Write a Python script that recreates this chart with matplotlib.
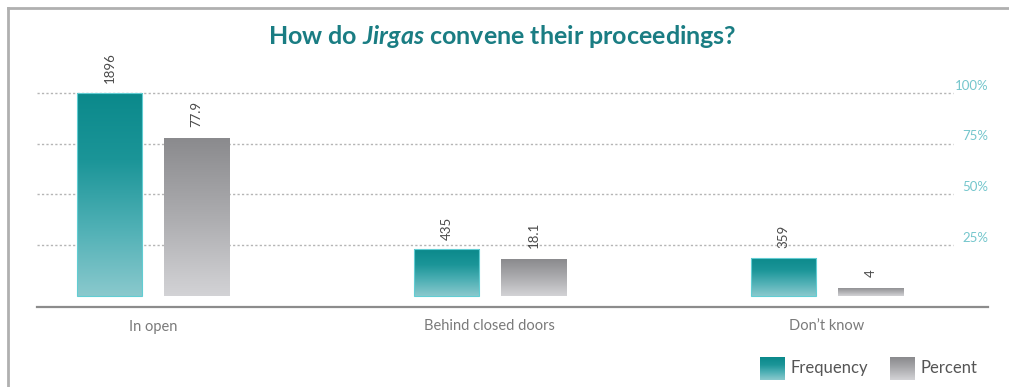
import numpy as np
import matplotlib
matplotlib.use("Agg")
import matplotlib.pyplot as plt
from matplotlib.colors import LinearSegmentedColormap
from matplotlib.transforms import blended_transform_factory
from matplotlib.lines import Line2D

# ---- data ----
categories = ["In open", "Behind closed doors", "Don\u2019t know"]
frequency = [1896, 435, 359]
percent = [77.9, 18.1, 4]
freq_labels = ["1896", "435", "359"]
pct_labels = ["77.9", "18.1", "4"]
pct_ticks = [25, 50, 75, 100]
pct_tick_labels = ["25%", "50%", "75%", "100%"]
series_names = ["Frequency", "Percent"]

plt.rcParams["font.family"] = ["Lato", "DejaVu Sans"]
plt.rcParams["mathtext.fontset"] = "custom"
plt.rcParams["mathtext.it"] = "Lato:bold:italic"
plt.rcParams["mathtext.rm"] = "Lato:bold"

teal_cmap = LinearSegmentedColormap.from_list(
    "teal", ["#8ac9cd", "#4fb0b5", "#1b9598", "#0b898b"])
gray_cmap = LinearSegmentedColormap.from_list(
    "gray", ["#d3d3d6", "#acacaf", "#8a8a8d"])

W, H = 1009, 387
fig = plt.figure(figsize=(W / 100, H / 100), dpi=100)
fig.patch.set_facecolor("white")

y_lo, y_hi = -5.4, 105
x_lo, x_hi = -0.344, 2.478
ax = fig.add_axes([37 / W, 1 - 307 / H, (988 - 37) / W, (307 - 82.8) / H])
ax.set_facecolor("none")

# frequency axis scaled so that its maximum sits on the 100% line
k = max(frequency) / 100.0
ax2 = ax.twinx()

x = np.arange(len(categories))
bw, off = 0.193, 0.129

# dotted reference lines
ax.hlines(pct_ticks, x_lo, 2.375, colors="#b5b5b5",
          linestyles=(0, (1.6, 1.6)), linewidth=1.0, zorder=0)

freq_bars = ax2.bar(x - off, frequency, bw, edgecolor="#62cdd3",
                    linewidth=0.8, zorder=2)
pct_bars = ax.bar(x + off, percent, bw, edgecolor="none", zorder=2)


def fill_gradient(axis, bars, cmap):
    grad = np.linspace(0, 1, 256).reshape(-1, 1)
    for p in bars.patches:
        x0, y0 = p.get_x(), p.get_y()
        x1, y1 = x0 + p.get_width(), y0 + p.get_height()
        im = axis.imshow(grad, extent=(x0, x1, y0, y1), origin="lower",
                         cmap=cmap, aspect="auto", zorder=1.9,
                         interpolation="bicubic")
        im.set_clip_path(p)
        p.set_facecolor("none")


fill_gradient(ax2, freq_bars, teal_cmap)
fill_gradient(ax, pct_bars, gray_cmap)

for xi, v, lab in zip(x - off, frequency, freq_labels):
    ax2.annotate(lab, (xi, v), xytext=(0, 7), textcoords="offset points",
                 rotation=90, ha="center", va="bottom", fontsize=9.5,
                 color="#4a4a4a")
for xi, v, lab in zip(x + off, percent, pct_labels):
    ax.annotate(lab, (xi, v), xytext=(0, 8), textcoords="offset points",
                rotation=90, ha="center", va="bottom", fontsize=9.5,
                color="#4a4a4a")

ax.set_xlim(x_lo, x_hi)
ax.set_ylim(y_lo, y_hi)
ax2.set_xlim(x_lo, x_hi)
ax2.set_ylim(y_lo * k, y_hi * k)

# axes styling
for a in (ax, ax2):
    for s in ("left", "right", "top"):
        a.spines[s].set_visible(False)
ax2.spines["bottom"].set_visible(False)
ax.spines["bottom"].set_color("#8c8c8c")
ax.spines["bottom"].set_linewidth(1.6)
ax.set_yticks([])
ax2.set_yticks([])
ax.set_xticks(x)
ax.set_xticklabels(categories, fontsize=10.5, color="#7a7a7a")
ax.tick_params(axis="x", length=0, pad=9)

# percent labels at the right end of the reference lines
tr = blended_transform_factory(ax.transAxes, ax.transData)
for t, lab in zip(pct_ticks, pct_tick_labels):
    ax.annotate(lab, (1.0, t), xycoords=tr, xytext=(0, 1),
                textcoords="offset points", ha="right", va="bottom",
                fontsize=9.5, color="#74c6cc")

# title
fig.text(0.498, 1 - 37 / H, r"How do $Jirgas$ convene their proceedings?",
         ha="center", va="center", fontsize=18, fontweight="bold",
         color="#1a7d83")

# legend
def swatch(x0, cmap):
    sa = fig.add_axes([x0 / W, 1 - 380 / H, 25 / W, 23 / H])
    sa.imshow(np.linspace(0, 1, 64).reshape(-1, 1), origin="lower",
              cmap=cmap, aspect="auto", interpolation="bicubic")
    sa.axis("off")


swatch(760, teal_cmap)
fig.text(791 / W, 1 - 368 / H, series_names[0], ha="left", va="center",
         fontsize=12, color="#555555")
swatch(890, gray_cmap)
fig.text(920 / W, 1 - 368 / H, series_names[1], ha="left", va="center",
         fontsize=12, color="#555555")

# page frame
fig.add_artist(Line2D([8 / W, 1], [1 - 8 / H, 1 - 8 / H],
                      transform=fig.transFigure, color="#b0b0b0", lw=2))
fig.add_artist(Line2D([8 / W, 8 / W], [0, 1 - 8 / H],
                      transform=fig.transFigure, color="#b0b0b0", lw=2))

fig.savefig("out.png", dpi=100, facecolor="white")
